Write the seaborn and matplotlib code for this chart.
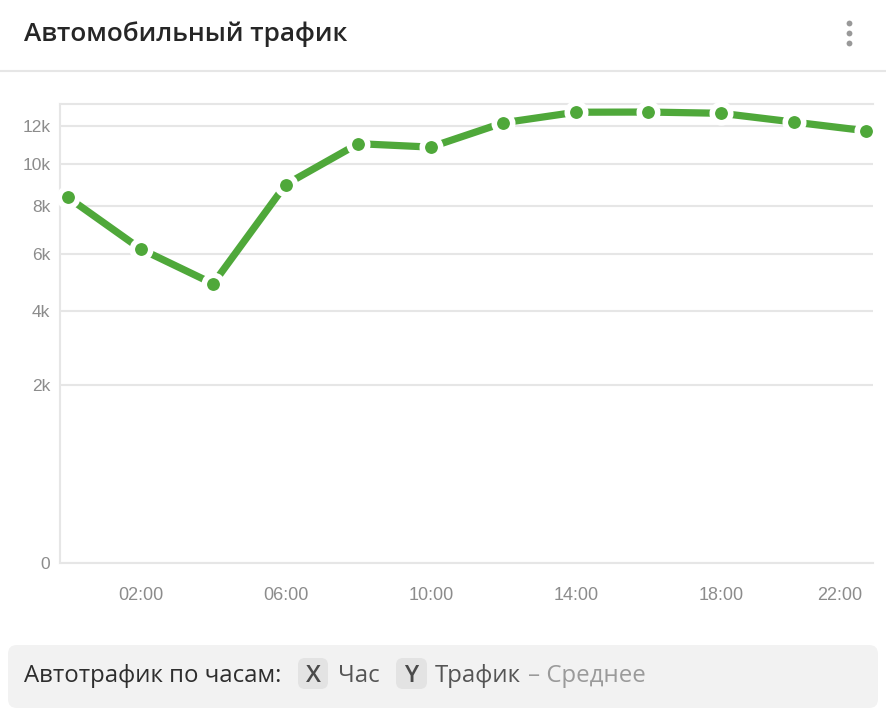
import numpy as np
import pandas as pd
import matplotlib
matplotlib.use("Agg")
import matplotlib.pyplot as plt
import matplotlib.transforms as mtransforms
from matplotlib.patches import FancyBboxPatch
from matplotlib.lines import Line2D
import seaborn as sns

# ---- data ----
hours = [0, 2, 4, 6, 8, 10, 12, 14, 16, 18, 20, 22]
traffic = [8400, 6200, 4900, 9000, 11050, 10870, 12180, 12770, 12780, 12710, 12220, 11740]
x_ticks = [2, 6, 10, 14, 18, 22]
x_tick_labels = ["02:00", "06:00", "10:00", "14:00", "18:00", "22:00"]
y_ticks = [0, 2000, 4000, 6000, 8000, 10000, 12000]
y_tick_labels = ["0", "2k", "4k", "6k", "8k", "10k", "12k"]
title = "Автомобильный трафик"

sns.set_theme(style="white")
plt.rcParams['font.family'] = ['Liberation Sans', 'DejaVu Sans']

W, H = 886, 722
fig = plt.figure(figsize=(W / 100, H / 100), dpi=100)
fig.patch.set_facecolor("white")

def fx(px):
    return px / W

def fy(py):
    return 1 - py / H

# axes position
left, right, top, bottom = 60, 873, 104, 563
ax = fig.add_axes([fx(left), fy(bottom), fx(right - left), (bottom - top) / H])

df = pd.DataFrame({"hour": hours, "traffic": traffic})
green = "#4fa83a"
sns.lineplot(data=df, x="hour", y="traffic", ax=ax, color=green, linewidth=5.2,
             marker="o", markersize=13.3, markerfacecolor=green,
             markeredgecolor="white", markeredgewidth=4.0, clip_on=False, zorder=5)

ax.set_yscale("function", functions=(lambda v: np.sqrt(np.clip(v, 0, None)), lambda v: np.square(v)))
ax.set_ylim(0, 13240)
ax.set_xlim(-0.22, 22.19)

ax.set_yticks(y_ticks)
ax.set_yticklabels(y_tick_labels)
ax.set_xticks(x_ticks)
ax.set_xticklabels(x_tick_labels)
ax.set_xlabel("")
ax.set_ylabel("")

grid_c = "#e6e6e6"
ax.grid(axis="y", color=grid_c, linewidth=1.5)
ax.grid(axis="x", visible=False)
for side in ["left", "top", "bottom"]:
    ax.spines[side].set_visible(True)
    ax.spines[side].set_color(grid_c)
    ax.spines[side].set_linewidth(1.5)
ax.spines["right"].set_visible(False)
ax.tick_params(axis="both", length=0)
ax.tick_params(axis="y", pad=7, labelsize=12.5, labelcolor="#8c8c8c")
ax.tick_params(axis="x", pad=17, labelsize=13, labelcolor="#8c8c8c")

# shift last x label left so it fits
lbls = ax.get_xticklabels()
offset = mtransforms.ScaledTranslation(-26 / 100, 0, fig.dpi_scale_trans)
lbls[-1].set_transform(lbls[-1].get_transform() + offset)

# ---- header ----
fig.text(fx(24), fy(34), title, fontsize=18.8, fontweight="semibold", color="#262626",
         ha="left", va="center", family=["Open Sans", "DejaVu Sans"])
fig.add_artist(Line2D([0, 1], [fy(70.5), fy(70.5)], transform=fig.transFigure,
                      color="#e6e6e6", linewidth=1.5))
for py in [23, 33, 43]:
    fig.add_artist(Line2D([fx(849)], [fy(py)], transform=fig.transFigure, marker="o",
                          markersize=4.2, color="#999999", markeredgewidth=0, linestyle="none"))

# ---- footer ----
fig.add_artist(FancyBboxPatch((fx(8), fy(708)), fx(870), (708 - 645) / H,
                              boxstyle="round,pad=0,rounding_size=0.01",
                              transform=fig.transFigure, facecolor="#f2f2f2",
                              edgecolor="none", mutation_aspect=W / H))
fam = ["Open Sans", "DejaVu Sans"]
fs = 17.3
cy = fy(676)
fig.text(fx(24), cy, "Автотрафик по часам:", fontsize=fs, color="#2e2e2e", ha="left", va="center", family=fam)
for x0, x1, letter in [(298, 328, "X"), (396, 427, "Y")]:
    fig.add_artist(FancyBboxPatch((fx(x0), fy(689)), fx(x1 - x0), (689 - 658) / H,
                                  boxstyle="round,pad=0,rounding_size=0.008",
                                  transform=fig.transFigure, facecolor="#e3e3e3",
                                  edgecolor="none", mutation_aspect=W / H))
    fig.text(fx((x0 + x1) / 2), cy, letter, fontsize=fs, fontweight="semibold", color="#4a4a4a",
             ha="center", va="center", family=fam)
fig.text(fx(338), cy, "Час", fontsize=fs, color="#555555", ha="left", va="center", family=fam)
fig.text(fx(435), cy, "Трафик", fontsize=fs, color="#555555", ha="left", va="center", family=fam)
fig.text(fx(528), cy, "– Среднее", fontsize=fs, color="#9a9a9a", ha="left", va="center", family=fam)

fig.savefig("out.png", dpi=100, facecolor="white")
